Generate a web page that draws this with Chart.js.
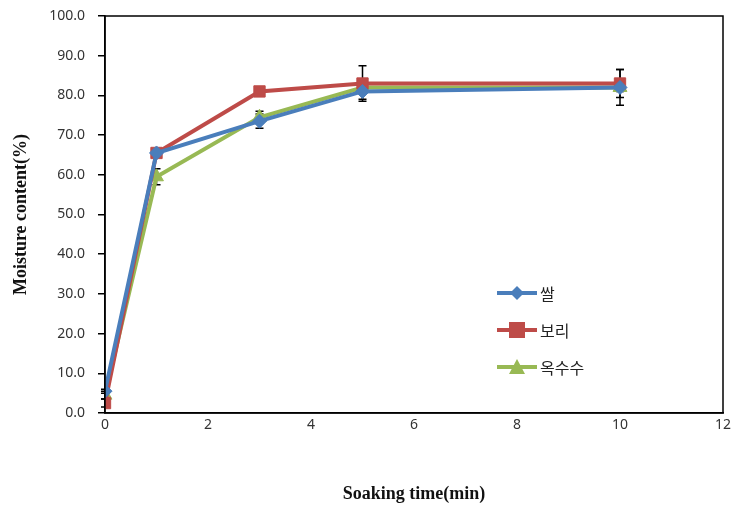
<!DOCTYPE html>
<html>
<head>
<meta charset="utf-8">
<script src="https://cdn.jsdelivr.net/npm/chart.js@4.4.0/dist/chart.umd.min.js"></script>
<style>
  html, body { margin: 0; padding: 0; background: #fff; }
  #wrap { position: relative; width: 734px; height: 509px; }
  #legend { position: absolute; left: 497px; top: 274px; font-family: "Noto Sans CJK KR", sans-serif; font-size: 16px; color: #222; }
  #legend div { height: 37px; display: flex; align-items: center; }
  #legend svg { margin-right: 3px; }
</style>
</head>
<body>
<div id="wrap">
  <canvas id="chart" width="734" height="509"></canvas>
  <div id="legend"></div>
</div>
<script>
const times = [0, 1, 3, 5, 10];
const seriesNames = ['쌀', '보리', '옥수수'];
const rice = [5.5, 65.5, 73.5, 81.0, 82.0];
const barley = [2.5, 65.5, 81.0, 83.0, 83.0];
const corn = [4.5, 59.5, 74.5, 82.0, 82.0];
const riceErr = [0.5, 1.0, 1.8, 2.0, 1.0];
const barleyErr = [1.0, 1.0, 1.0, 4.5, 3.5];
const cornErr = [1.0, 2.0, 1.5, 1.0, 4.5];
const xTicks = [0, 2, 4, 6, 8, 10, 12];

const colors = ['#4a7ebb', '#be4b48', '#98b954'];
const shapes = ['rectRot', 'rect', 'triangle'];
const radii = [7, 8, 8];

const toPoints = vals => vals.map((v, i) => ({ x: times[i], y: v }));

// error bars drawn under the markers
const errorBars = {
  id: 'errorBars',
  beforeDatasetsDraw(chart) {
    const { ctx, scales: { x, y } } = chart;
    ctx.save();
    ctx.strokeStyle = '#000';
    ctx.lineWidth = 1.5;
    chart.data.datasets.forEach(ds => {
      ds.data.forEach((p, i) => {
        const e = ds.errors[i];
        const px = x.getPixelForValue(p.x);
        const top = y.getPixelForValue(p.y + e);
        const bot = y.getPixelForValue(p.y - e);
        ctx.beginPath();
        ctx.moveTo(px, top); ctx.lineTo(px, bot);
        ctx.moveTo(px - 4, top); ctx.lineTo(px + 4, top);
        ctx.moveTo(px - 4, bot); ctx.lineTo(px + 4, bot);
        ctx.stroke();
      });
    });
    ctx.restore();
  }
};

// black frame round the plot area
const frame = {
  id: 'frame',
  afterDraw(chart) {
    const { ctx, chartArea: a } = chart;
    ctx.save();
    ctx.strokeStyle = '#000';
    ctx.lineWidth = 1.5;
    ctx.strokeRect(a.left, a.top, a.right - a.left, a.bottom - a.top);
    ctx.restore();
  }
};

new Chart(document.getElementById('chart'), {
  type: 'line',
  data: {
    datasets: [rice, barley, corn].map((vals, k) => ({
      label: seriesNames[k],
      data: toPoints(vals),
      errors: [riceErr, barleyErr, cornErr][k],
      borderColor: colors[k],
      backgroundColor: colors[k],
      borderWidth: 4,
      pointStyle: shapes[k],
      pointRadius: radii[k],
      pointBorderWidth: 1,
      tension: 0
    }))
  },
  options: {
    responsive: false,
    animation: false,
    layout: { padding: { left: 0, right: 11, top: 16, bottom: 0 } },
    plugins: { legend: { display: false }, tooltip: { enabled: false } },
    scales: {
      x: {
        type: 'linear',
        min: 0, max: 12,
        afterBuildTicks: s => { s.ticks = xTicks.map(v => ({ value: v })); },
        afterFit: s => { s.height = 96; },
        grid: { display: false },
        border: { color: '#000', width: 1.5 },
        ticks: { color: '#333', font: { family: 'Noto Sans', size: 14 }, padding: -4 },
        title: {
          display: true, text: 'Soaking time(min)', color: '#111',
          font: { family: 'Liberation Serif', size: 18, weight: 'bold' },
          padding: { top: 41 }
        }
      },
      y: {
        min: 0, max: 100,
        afterFit: s => { s.width = 105; s.paddingTop = 0; s.paddingBottom = 0; },
        grid: { drawOnChartArea: false, tickLength: 7, color: '#000', lineWidth: 1.5 },
        border: { color: '#000', width: 1.5 },
        ticks: {
          stepSize: 10, color: '#333', padding: 13,
          font: { family: 'Noto Sans', size: 14 },
          callback: v => v.toFixed(1)
        },
        title: {
          display: true, text: 'Moisture content(%)', color: '#111',
          font: { family: 'Liberation Serif', size: 18, weight: 'bold' },
          padding: { top: 11, bottom: 4 }
        }
      }
    }
  },
  plugins: [errorBars, frame]
});

// legend
const legend = document.getElementById('legend');
const markerSvg = k => {
  const c = colors[k];
  let m;
  if (k === 0) m = `<polygon points="20,3 27,10 20,17 13,10" fill="${c}"/>`;
  else if (k === 1) m = `<rect x="12" y="2" width="16" height="16" fill="${c}"/>`;
  else m = `<polygon points="20,2 28,17 12,17" fill="${c}"/>`;
  return `<svg width="40" height="20"><line x1="0" y1="10" x2="40" y2="10" stroke="${c}" stroke-width="4"/>${m}</svg>`;
};
seriesNames.forEach((n, k) => {
  const row = document.createElement('div');
  row.innerHTML = markerSvg(k) + '<span>' + n + '</span>';
  legend.appendChild(row);
});
</script>
</body>
</html>
